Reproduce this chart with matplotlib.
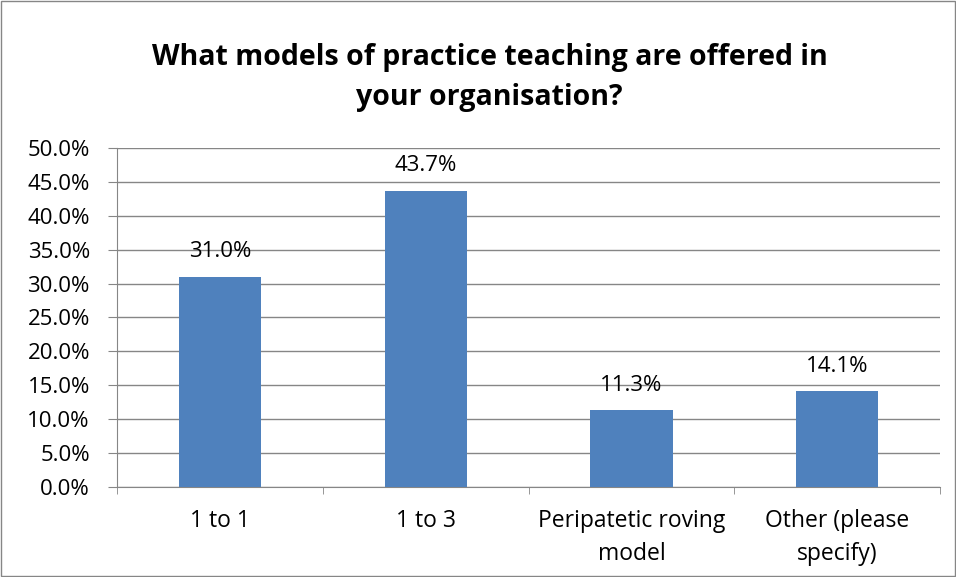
import matplotlib.pyplot as plt
from matplotlib.patches import Rectangle
import numpy as np

categories = ["1 to 1", "1 to 3", "Peripatetic roving\nmodel", "Other (please\nspecify)"]
values = [31.0, 43.7, 11.3, 14.1]
yticks = [0, 5, 10, 15, 20, 25, 30, 35, 40, 45, 50]

plt.rcParams['font.family'] = ['Open Sans', 'DejaVu Sans']

fig = plt.figure(figsize=(9.56, 5.77), dpi=100)
ax = fig.add_axes([0.1224, 0.156, 0.861, 0.5875])

x = np.arange(len(categories))
ax.bar(x, values, width=0.4, color='#4F81BD', zorder=3)
for xi, v in zip(x, values):
    ax.annotate(f"{v:.1f}%", (xi, v), xytext=(0, 14), textcoords='offset points',
                ha='center', va='baseline', fontsize=16)

ax.set_xlim(-0.5, len(categories) - 0.5)
ax.set_ylim(0, 50)
ax.set_yticks(yticks)
ax.set_yticklabels([f"{t:.1f}%" for t in yticks], fontsize=16)
ax.yaxis.grid(True, color='#868686', lw=1, zorder=0)
ax.tick_params(axis='y', length=6.5, color='#868686', pad=13)

ax.set_xticks(x)
ax.set_xticklabels(categories, fontsize=16.5, linespacing=1.5)
ax.set_xticks(np.arange(-0.5, len(categories)), minor=True)
ax.tick_params(axis='x', which='major', length=0, pad=16)
ax.tick_params(axis='x', which='minor', length=5, color='#868686')

for s in ['top', 'right']:
    ax.spines[s].set_visible(False)
for s in ['left', 'bottom']:
    ax.spines[s].set_color('#868686')

fig.text(0.512, 0.866, "What models of practice teaching are offered in\nyour organisation?",
         ha='center', va='center', fontsize=20.5, fontweight='bold', linespacing=1.5)

fig.patches.append(Rectangle((0.001, 0.001), 0.998, 0.998, transform=fig.transFigure,
                             fill=False, edgecolor='#868686', lw=1))

fig.savefig("out.png", dpi=100)
